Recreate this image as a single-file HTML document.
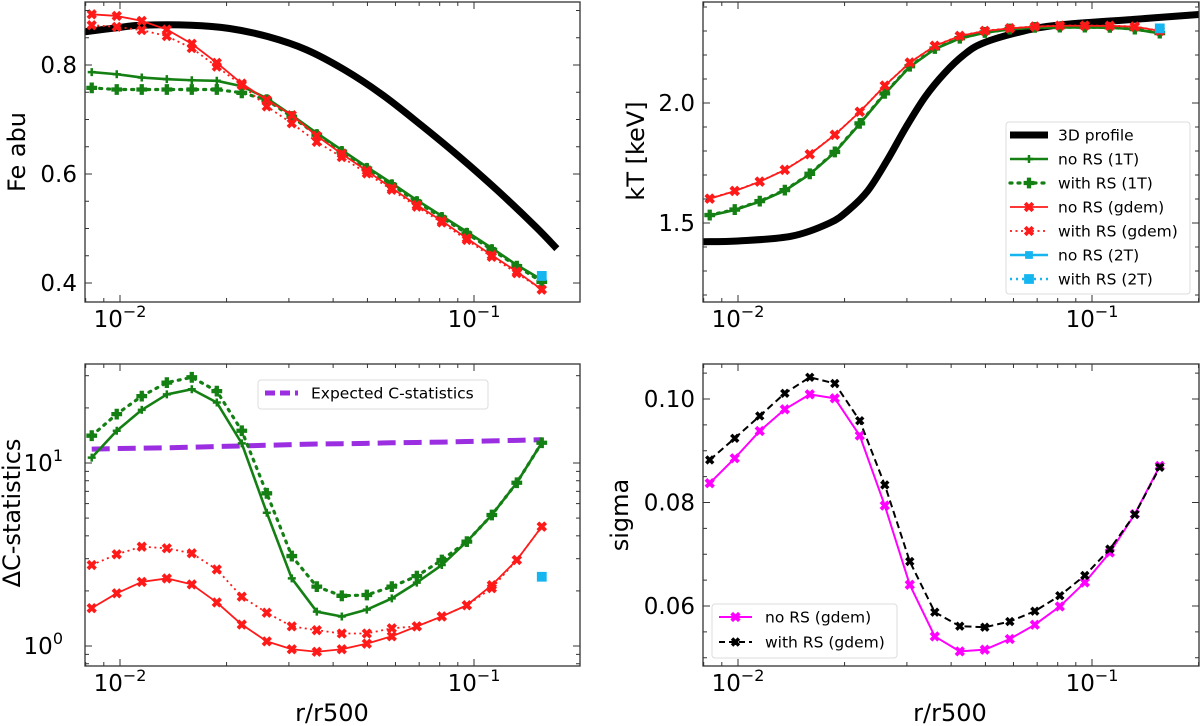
<!DOCTYPE html>
<html><head><meta charset="utf-8"><style>
html,body{margin:0;padding:0;background:#fff;}
svg{display:block;font-family:"DejaVu Sans","Liberation Sans",sans-serif;}
</style></head><body>
<svg id="fig" width="1200" height="726" viewBox="0 0 1200 726" xmlns="http://www.w3.org/2000/svg"></svg>
<script>
// ---------- data ----------
const radii = [0.00832,0.00979,0.01152,0.01356,0.01595,0.01877,0.02208,0.02598,0.03057,0.03597,0.04232,0.0498,0.05859,0.06894,0.08111,0.09544,0.1123,0.1321,0.1554];
// Fe abundance panel
const feNoRS1T   = [0.787,0.783,0.777,0.774,0.772,0.771,0.761,0.739,0.708,0.675,0.644,0.613,0.583,0.552,0.523,0.494,0.464,0.433,0.406];
const feRS1T     = [0.758,0.755,0.755,0.755,0.755,0.755,0.749,0.736,0.705,0.672,0.641,0.610,0.580,0.549,0.520,0.491,0.461,0.431,0.402];
const feNoRSgdem = [0.893,0.890,0.881,0.865,0.839,0.804,0.766,0.736,0.708,0.670,0.637,0.606,0.574,0.543,0.514,0.482,0.451,0.421,0.388];
const feRSgdem   = [0.873,0.870,0.864,0.853,0.831,0.797,0.763,0.724,0.693,0.659,0.631,0.601,0.571,0.540,0.511,0.479,0.448,0.418,0.388];
const fe2T = [0.413];
const feProfileR = [0.00797,0.01,0.01151,0.0159,0.0204,0.0262,0.0336,0.0431,0.0552,0.0708,0.0908,0.1164,0.1495,0.1714];
const feProfile  = [0.861,0.869,0.873,0.873,0.867,0.852,0.828,0.791,0.745,0.690,0.632,0.570,0.503,0.463];
// kT panel
const ktNoRS1T   = [1.531,1.554,1.589,1.635,1.703,1.794,1.913,2.038,2.151,2.225,2.269,2.293,2.307,2.314,2.315,2.315,2.314,2.307,2.290];
const ktRS1T     = [1.533,1.556,1.591,1.637,1.705,1.796,1.915,2.040,2.153,2.227,2.270,2.294,2.308,2.315,2.316,2.316,2.315,2.308,2.291];
const ktNoRSgdem = [1.601,1.633,1.672,1.721,1.786,1.867,1.963,2.072,2.168,2.238,2.279,2.300,2.311,2.318,2.322,2.322,2.321,2.318,2.300];
const ktRSgdem   = [1.602,1.634,1.673,1.722,1.787,1.868,1.964,2.073,2.169,2.239,2.280,2.301,2.312,2.319,2.323,2.323,2.322,2.319,2.301];
const kt2T = [2.311];
const ktProfileR = [0.00798,0.01,0.01416,0.01815,0.02057,0.02328,0.02636,0.02985,0.0338,0.0383,0.0434,0.0491,0.063,0.0807,0.133,0.2004];
const ktProfile  = [1.422,1.425,1.445,1.500,1.555,1.635,1.760,1.900,2.026,2.124,2.200,2.249,2.297,2.325,2.349,2.369];
// Delta C panel
const dcNoRS1T   = [10.7,15.0,19.5,23.7,25.3,21.4,12.8,5.35,2.34,1.54,1.45,1.58,1.82,2.22,2.77,3.72,5.2,7.8,12.9];
const dcRS1T     = [14.1,18.5,23.2,27.5,29.4,24.7,15.0,6.83,3.10,2.11,1.88,1.90,2.11,2.41,2.95,3.72,5.2,7.8,12.9];
const dcNoRSgdem = [1.61,1.94,2.24,2.34,2.17,1.73,1.31,1.06,0.96,0.93,0.96,1.03,1.13,1.28,1.45,1.67,2.15,2.95,4.49];
const dcRSgdem   = [2.77,3.17,3.49,3.42,3.21,2.62,1.86,1.52,1.28,1.22,1.17,1.17,1.25,1.28,1.45,1.67,2.07,2.95,4.49];
const dc2T = [2.39];
const dcExpected = [11.9,12.0,12.05,12.1,12.2,12.3,12.4,12.5,12.6,12.7,12.75,12.8,12.9,12.95,13.0,13.1,13.2,13.3,13.4];
// sigma panel
const sgNoRS = [0.08373,0.08855,0.09382,0.09801,0.1009,0.10013,0.09292,0.07941,0.0641,0.05412,0.05123,0.05156,0.05362,0.05638,0.05991,0.06455,0.07034,0.07775,0.08707];
const sgRS   = [0.08823,0.09241,0.09672,0.1011,0.1042,0.1030,0.0958,0.0834,0.0686,0.0588,0.0561,0.0559,0.0570,0.0590,0.0620,0.0659,0.0710,0.0777,0.0868];
// ticks
const xTickVals = [0.01,0.1];
const xTickExp = ["\u22122","\u22121"];
const feTicks = [0.4,0.6,0.8];
const feTickLabels = ["0.4","0.6","0.8"];
const ktTicks = [1.5,2.0];
const ktTickLabels = ["1.5","2.0"];
const dcTicks = [1,10];
const dcTickExp = ["0","1"];
const sgTicks = [0.06,0.08,0.10];
const sgTickLabels = ["0.06","0.08","0.10"];

// ---------- helpers ----------
const NS="http://www.w3.org/2000/svg";
const svg=document.getElementById('fig');
function mk(tag,attrs,parent){const e=document.createElementNS(NS,tag);for(const k in attrs)e.setAttribute(k,attrs[k]);(parent||svg).appendChild(e);return e;}
const L=Math.log10;

function makePanel(name,fx0,fx1,fy0,fy1,xfn,yfn){
  const g=mk('g',{});
  
  
  const clip=mk('clipPath',{id:'clip-'+name},g);
  mk('rect',{x:fx0,y:fy0,width:fx1-fx0,height:fy1-fy0},clip);
  const plot=mk('g',{'clip-path':'url(#clip-'+name+')'},g);
  
  
  return {g,plot,fx0,fx1,fy0,fy1,xfn,yfn};
}
function frame(p){
  const r=mk('rect',{x:p.fx0,y:p.fy0,width:p.fx1-p.fx0,height:p.fy1-p.fy0,fill:'none',stroke:'#333',"stroke-width":1.3},p.g);
  
  
}
function tick(p,x1,y1,x2,y2){mk('line',{x1,y1,x2,y2,stroke:'#333','stroke-width':1},p.g);}
function xLogTicks(p,ticks,exps){
  for(let d=-3;d<=0;d++){for(let m=1;m<10;m++){const v=m*Math.pow(10,d);const x=p.xfn(v);if(x<p.fx0||x>p.fx1)continue;const len=(m===1)?7:4;tick(p,x,p.fy1,x,p.fy1-len);tick(p,x,p.fy0,x,p.fy0+len);}}
  ticks.forEach((v,i)=>{const x=p.xfn(v);
    const t=mk('text',{x:x,y:p.fy1+25,'text-anchor':'middle','font-size':23,fill:'#000'},p.g);
    
    
    t.textContent='10';
    const s=mk('tspan',{dy:-10,'font-size':16},t);s.textContent=exps[i];});
}
function yLinTicks(p,ticks,labels,minorStep,lo,hi){
  for(let v=lo;v<=hi+1e-9;v+=minorStep){const y=p.yfn(v);if(y<p.fy0||y>p.fy1)continue;tick(p,p.fx0,y,p.fx0+4,y);tick(p,p.fx1,y,p.fx1-4,y);}
  ticks.forEach((v,i)=>{const y=p.yfn(v);tick(p,p.fx0,y,p.fx0+7,y);tick(p,p.fx1,y,p.fx1-7,y);
    const t=mk('text',{x:p.fx0-8,y:y+8,'text-anchor':'end','font-size':23,fill:'#000'},p.g);
    
    
    t.textContent=labels[i];});
}
function yLogTicks(p,ticks,exps){
  for(let d=-1;d<=1;d++){for(let m=1;m<10;m++){const v=m*Math.pow(10,d);const y=p.yfn(v);if(y<p.fy0||y>p.fy1)continue;const len=(m===1)?7:4;tick(p,p.fx0,y,p.fx0+len,y);tick(p,p.fx1,y,p.fx1-len,y);}}
  ticks.forEach((v,i)=>{const y=p.yfn(v);
    const t=mk('text',{x:p.fx0-22,y:y+8,'text-anchor':'end','font-size':23,fill:'#000'},p.g);
    
    
    t.textContent='10';
    const s=mk('tspan',{dy:-10,'font-size':16},t);s.textContent=exps[i];});
}
function axisLabel(p,txt,x,y,rot,name){
  const t=mk('text',{x,y,'text-anchor':'middle','font-size':24,fill:'#000'},p.g);
  if(rot)t.setAttribute('transform','rotate(-90 '+x+' '+y+')');
  
  
  t.textContent=txt;
}
function markerPath(type,x,y,s){
  if(type==='plus'){const a=s,b=s*0.35;return `M${x-b},${y-a}H${x+b}V${y-b}H${x+a}V${y+b}H${x+b}V${y+a}H${x-b}V${y+b}H${x-a}V${y-b}H${x-b}Z`;}
  if(type==='thinplus'){return `M${x-s},${y}H${x+s}M${x},${y-s}V${y+s}`;}
  if(type==='x'){const a=s,b=s*0.3;const pts=[[-b,-a],[b,-a],[b,-b],[a,-b],[a,b],[b,b],[b,a],[-b,a],[-b,b],[-a,b],[-a,-b],[-b,-b]];const c=Math.SQRT1_2;return 'M'+pts.map(([u,v])=>`${x+(u-v)*c},${y+(u+v)*c}`).join('L')+'Z';}
  if(type==='square'){return `M${x-s},${y-s}H${x+s}V${y+s}H${x-s}Z`;}
  return '';
}
function smoothPath(pts){
  let d=`M${pts[0][0]},${pts[0][1]}`;
  for(let i=0;i<pts.length-1;i++){
    const p0=pts[Math.max(i-1,0)],p1=pts[i],p2=pts[i+1],p3=pts[Math.min(i+2,pts.length-1)];
    const c1=[p1[0]+(p2[0]-p0[0])/6,p1[1]+(p2[1]-p0[1])/6];
    const c2=[p2[0]-(p3[0]-p1[0])/6,p2[1]-(p3[1]-p1[1])/6];
    d+=`C${c1[0]},${c1[1]} ${c2[0]},${c2[1]} ${p2[0]},${p2[1]}`;
  }
  return d;
}
function series(p,xs,ys,opt,name){
  const g=mk('g',{},p.plot);
  
  
  const pts=xs.map((x,i)=>[p.xfn(x),p.yfn(ys[i])]);
  if(opt.lw){
    if(opt.smooth){mk('path',{d:smoothPath(pts),fill:'none',stroke:opt.color,'stroke-width':opt.lw,'stroke-linecap':'butt'},g);}
    else mk('polyline',{points:pts.map(q=>q.join(',')).join(' '),fill:'none',stroke:opt.color,'stroke-width':opt.lw,'stroke-dasharray':opt.dash||'none','stroke-linecap':opt.cap||'butt','stroke-linejoin':'round'},g);}
  if(opt.marker){pts.forEach(q=>{const m=mk('path',{d:markerPath(opt.marker,q[0],q[1],opt.ms),fill:opt.marker==='thinplus'?'none':opt.color,stroke:opt.color,'stroke-width':opt.marker==='thinplus'?2.5:0.8},g);
    
    });}
}
function legend(p,x,y,w,h,entries,name,rowH,tx,hx0,hx1){
  const g=mk('g',{},p.g);
  
  
  mk('rect',{x,y,width:w,height:h,rx:3,fill:'#fff','fill-opacity':0.85,stroke:'#ddd','stroke-width':1},g);
  entries.forEach((e,i)=>{const cy=y+13+i*rowH;
    const eg=mk('g',{},g);
    
    
    if(e.lw)mk('line',{x1:hx0,y1:cy,x2:hx1,y2:cy,stroke:e.color,'stroke-width':e.lw,'stroke-dasharray':e.dash||'none','stroke-linecap':e.cap||'butt'},eg);
    if(e.marker){const mx=(hx0+hx1)/2;mk('path',{d:markerPath(e.marker,mx,cy,e.ms),fill:e.marker==='thinplus'?'none':e.color,stroke:e.color,'stroke-width':e.marker==='thinplus'?2.5:0.8},eg);}
    const t=mk('text',{x:tx,y:cy+5.5,'font-size':15.5,fill:'#000'},eg);t.textContent=e.label;});
}
const G='#148014',R='#ff1a1a',C='#15b5f0';
const st={
  no1T:{color:G,lw:2.6,marker:'thinplus',ms:4},
  rs1T:{color:G,lw:3.2,dash:'2,6',cap:'round',marker:'plus',ms:5},
  noG:{color:R,lw:1.8,marker:'x',ms:5},
  rsG:{color:R,lw:1.8,dash:'2,3.5',marker:'x',ms:5},
  prof:{color:'#000',lw:7,smooth:true},
  sq:{color:C,marker:'square',ms:4.5}
};

// ---------- panel 1: Fe abu ----------
const xl=v=>120+(L(v)+2)*354, xr=v=>738+(L(v)+2)*354;
const p1=makePanel('fe-abundance-panel',85,580,2,302,xl,v=>65+(0.8-v)/0.2*109);
series(p1,feProfileR,feProfile,st.prof,'fe-3d-profile-line');
series(p1,radii,feRS1T,st.rs1T,'fe-with-rs-1t-line');
series(p1,radii,feNoRS1T,st.no1T,'fe-no-rs-1t-line');
series(p1,radii,feRSgdem,st.rsG,'fe-with-rs-gdem-line');
series(p1,radii,feNoRSgdem,st.noG,'fe-no-rs-gdem-line');
series(p1,radii.slice(-1),fe2T,st.sq,'fe-with-rs-2t-point');
frame(p1);xLogTicks(p1,xTickVals,xTickExp);yLinTicks(p1,feTicks,feTickLabels,0.05,0.35,0.95);
axisLabel(p1,'Fe abu',25,152,true,'y-axis-title-fe');

// ---------- panel 2: kT ----------
const p2=makePanel('kt-panel',703,1199,2,302,xr,v=>103+(2.0-v)/0.5*120);
series(p2,ktProfileR,ktProfile,st.prof,'kt-3d-profile-line');
series(p2,radii,ktRS1T,st.rs1T,'kt-with-rs-1t-line');
series(p2,radii,ktNoRS1T,st.no1T,'kt-no-rs-1t-line');
series(p2,radii,ktRSgdem,st.rsG,'kt-with-rs-gdem-line');
series(p2,radii,ktNoRSgdem,st.noG,'kt-no-rs-gdem-line');
series(p2,radii.slice(-1),kt2T,st.sq,'kt-with-rs-2t-point');
frame(p2);xLogTicks(p2,xTickVals,xTickExp);yLinTicks(p2,ktTicks,ktTickLabels,0.1,1.2,2.5);
axisLabel(p2,'kT [keV]',644,151,true,'y-axis-title-kt');
legend(p2,1006,122,184,172,[
 {label:'3D profile',color:'#000',lw:7},
 {label:'no RS (1T)',color:G,lw:2.6,marker:'thinplus',ms:4},
 {label:'with RS (1T)',color:G,lw:3.2,dash:'2,6',cap:'round',marker:'plus',ms:5},
 {label:'no RS (gdem)',color:R,lw:1.8,marker:'x',ms:5},
 {label:'with RS (gdem)',color:R,lw:1.8,dash:'2,3.5',marker:'x',ms:5},
 {label:'no RS (2T)',color:C,lw:2.6,marker:'square',ms:3.5},
 {label:'with RS (2T)',color:C,lw:2.6,dash:'2,4',marker:'square',ms:4.5}
],'kt-legend',24,1058,1010,1048);

// ---------- panel 3: Delta C ----------
const p3=makePanel('delta-c-panel',85,580,364,666,xl,v=>646-L(v)*183);
series(p3,radii,dcExpected,{color:'#9a2ee0',lw:5,dash:'18,8'},'expected-c-statistics-line');
series(p3,radii,dcRS1T,st.rs1T,'dc-with-rs-1t-line');
series(p3,radii,dcNoRS1T,st.no1T,'dc-no-rs-1t-line');
series(p3,radii,dcRSgdem,st.rsG,'dc-with-rs-gdem-line');
series(p3,radii,dcNoRSgdem,st.noG,'dc-no-rs-gdem-line');
series(p3,radii.slice(-1),dc2T,st.sq,'dc-with-rs-2t-point');
frame(p3);xLogTicks(p3,xTickVals,xTickExp);yLogTicks(p3,dcTicks,dcTickExp);
axisLabel(p3,'\u0394C-statistics',20,513,true,'y-axis-title-delta-c');
axisLabel(p3,'r/r500',332,721,false,'x-axis-title-left');
legend(p3,258,380,230,29,[{label:'Expected C-statistics',color:'#9a2ee0',lw:5,dash:'10,5'}],'delta-c-legend',24,311,265,298);

// ---------- panel 4: sigma ----------
const p4=makePanel('sigma-panel',703,1199,364,666,xr,v=>399+(0.1-v)/0.02*103.5);
series(p4,radii,sgNoRS,{color:'#ff00ff',lw:2,marker:'x',ms:5},'sigma-no-rs-gdem-line');
series(p4,radii,sgRS,{color:'#000',lw:2,dash:'7,4',marker:'x',ms:4.5},'sigma-with-rs-gdem-line');
frame(p4);xLogTicks(p4,xTickVals,xTickExp);yLinTicks(p4,sgTicks,sgTickLabels,0.005,0.045,0.11);
axisLabel(p4,'sigma',628,515,true,'y-axis-title-sigma');
axisLabel(p4,'r/r500',950,721,false,'x-axis-title-right');
legend(p4,712,604,185,54,[
 {label:'no RS (gdem)',color:'#ff00ff',lw:2,marker:'x',ms:5},
 {label:'with RS (gdem)',color:'#000',lw:2,dash:'6,4',marker:'x',ms:4.5}
],'sigma-legend',25,765,719,752);
</script>
</body></html>
